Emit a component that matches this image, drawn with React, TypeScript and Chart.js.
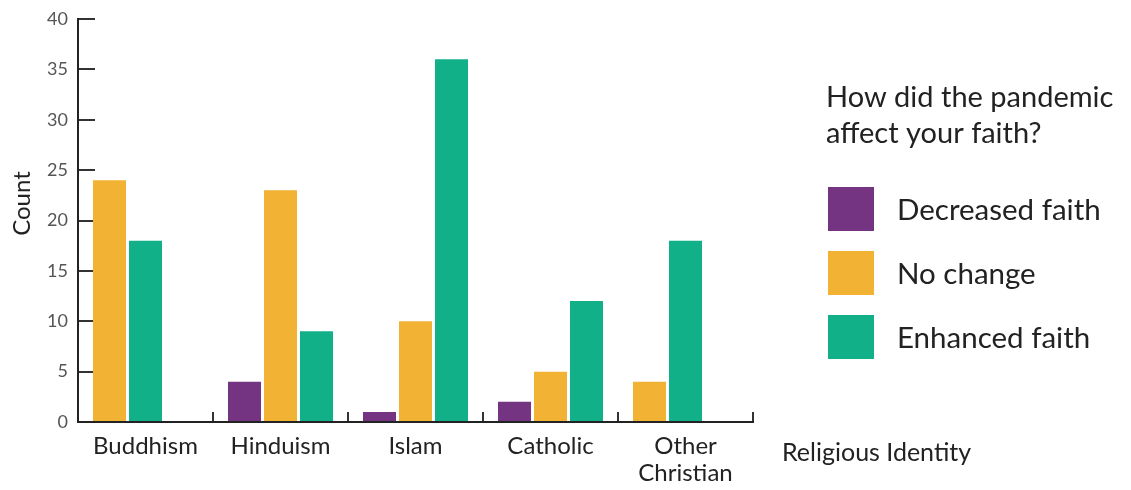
import React, { useEffect, useRef } from 'react';
import { Chart, registerables } from 'chart.js';

Chart.register(...registerables);

// ---- data ----
const CATEGORIES: (string | string[])[] = ['Buddhism', 'Hinduism', 'Islam', 'Catholic', ['Other', 'Christian']];
const SERIES_NAMES = ['Decreased faith', 'No change', 'Enhanced faith'];
const DECREASED: (number | null)[] = [null, 4, 1, 2, null];
const NO_CHANGE: (number | null)[] = [24, 23, 10, 5, 4];
const ENHANCED: (number | null)[] = [18, 9, 36, 12, 18];
const SERIES_COLORS = ['#743482', '#F2B233', '#12B088'];
const Y_MIN = 0;
const Y_MAX = 40;
const Y_STEP = 5;
const LEGEND_TITLE = ['How did the pandemic', 'affect your faith?'];
const X_TITLE = 'Religious Identity';
const Y_TITLE = 'Count';

// ---- style ----
const FONT = 'Lato, "Open Sans", sans-serif';
const TEXT = '#222222';
const SLOT = 36 / 135; // dodge slot width as a fraction of one category

const SERIES = [DECREASED, NO_CHANGE, ENHANCED];

const annotations = {
  id: 'annotations',
  afterDraw(chart: any) {
    const { ctx, chartArea } = chart;
    const { left, right, top, bottom } = chartArea;
    ctx.save();
    ctx.fillStyle = TEXT;
    ctx.textBaseline = 'alphabetic';
    ctx.textAlign = 'left';

    // legend title
    ctx.font = `29px ${FONT}`;
    LEGEND_TITLE.forEach((line, i) => ctx.fillText(line, right + 73, top + 88 + i * 36));

    // legend items
    ctx.font = `29.5px ${FONT}`;
    ctx.textBaseline = 'middle';
    chart.data.datasets.forEach((ds: any, i: number) => {
      const bx = right + 75;
      const by = top + 168 + i * 64;
      ctx.fillStyle = ds.backgroundColor;
      ctx.fillRect(bx, by, 46, 44);
      ctx.fillStyle = TEXT;
      ctx.fillText(ds.label, right + 144, by + 23);
    });

    // x title
    ctx.textBaseline = 'alphabetic';
    ctx.font = `25px ${FONT}`;
    ctx.fillText(X_TITLE, right + 29, bottom + 39);

    // y title
    ctx.translate(left - 48, (top + bottom) / 2 - 17);
    ctx.rotate(-Math.PI / 2);
    ctx.textAlign = 'center';
    ctx.font = `24px ${FONT}`;
    ctx.fillText(Y_TITLE, 0, 0);
    ctx.restore();
  },
};

export default function App() {
  const ref = useRef<HTMLCanvasElement | null>(null);

  useEffect(() => {
    if (!ref.current) return;
    const datasets = SERIES.map((vals, s) => ({
      label: SERIES_NAMES[s],
      backgroundColor: SERIES_COLORS[s],
      borderWidth: 0,
      grouped: false,
      categoryPercentage: 1,
      barPercentage: 0.917,
      data: vals.flatMap((v, i) => {
        if (v == null) return [];
        const slot = SERIES.slice(0, s).filter((o) => o[i] != null).length;
        return [{ x: i + (slot - 1) * SLOT, y: v }];
      }),
    }));

    const chart = new Chart(ref.current, {
      type: 'bar',
      data: { datasets },
      plugins: [annotations],
      options: {
        animation: false,
        responsive: false,
        devicePixelRatio: 1,
        layout: { padding: { left: 0, top: 19, right: 378, bottom: 0 } },
        plugins: {
          legend: { display: false },
          tooltip: { enabled: false },
          title: { display: false },
        },
        scales: {
          x: {
            type: 'linear',
            offset: false,
            bounds: 'data',
            min: -0.5,
            max: CATEGORIES.length - 0.5,
            afterBuildTicks: (s: any) => {
              s.ticks = CATEGORIES.map((_, i) => ({ value: i }));
            },
            afterFit: (s: any) => {
              s.height = 68;
            },
            ticks: {
              autoSkip: false,
              maxRotation: 0,
              padding: 21,
              color: TEXT,
              font: { family: FONT, size: 24, lineHeight: 1.125 },
              callback: (v: any) => CATEGORIES[Math.round(Number(v))],
            },
            grid: { offset: true, drawOnChartArea: false, tickLength: -10, color: '#333', lineWidth: 2 },
            border: { color: '#222', width: 2 },
          },
          y: {
            min: Y_MIN,
            max: Y_MAX,
            afterFit: (s: any) => {
              s.width = 78;
              s.paddingTop = 0;
              s.paddingBottom = 0;
            },
            ticks: {
              stepSize: Y_STEP,
              padding: 27,
              color: '#555',
              font: { family: FONT, size: 18 },
            },
            grid: { drawOnChartArea: false, tickLength: -17, color: '#333', lineWidth: 2 },
            border: { color: '#222', width: 2 },
          },
        },
      } as any,
    });
    return () => chart.destroy();
  }, []);

  return (
    <div style={{ position: 'absolute', left: 0, top: 0, width: 1131, height: 490, background: '#fff' }}>
      <canvas ref={ref} width={1131} height={490} />
    </div>
  );
}
